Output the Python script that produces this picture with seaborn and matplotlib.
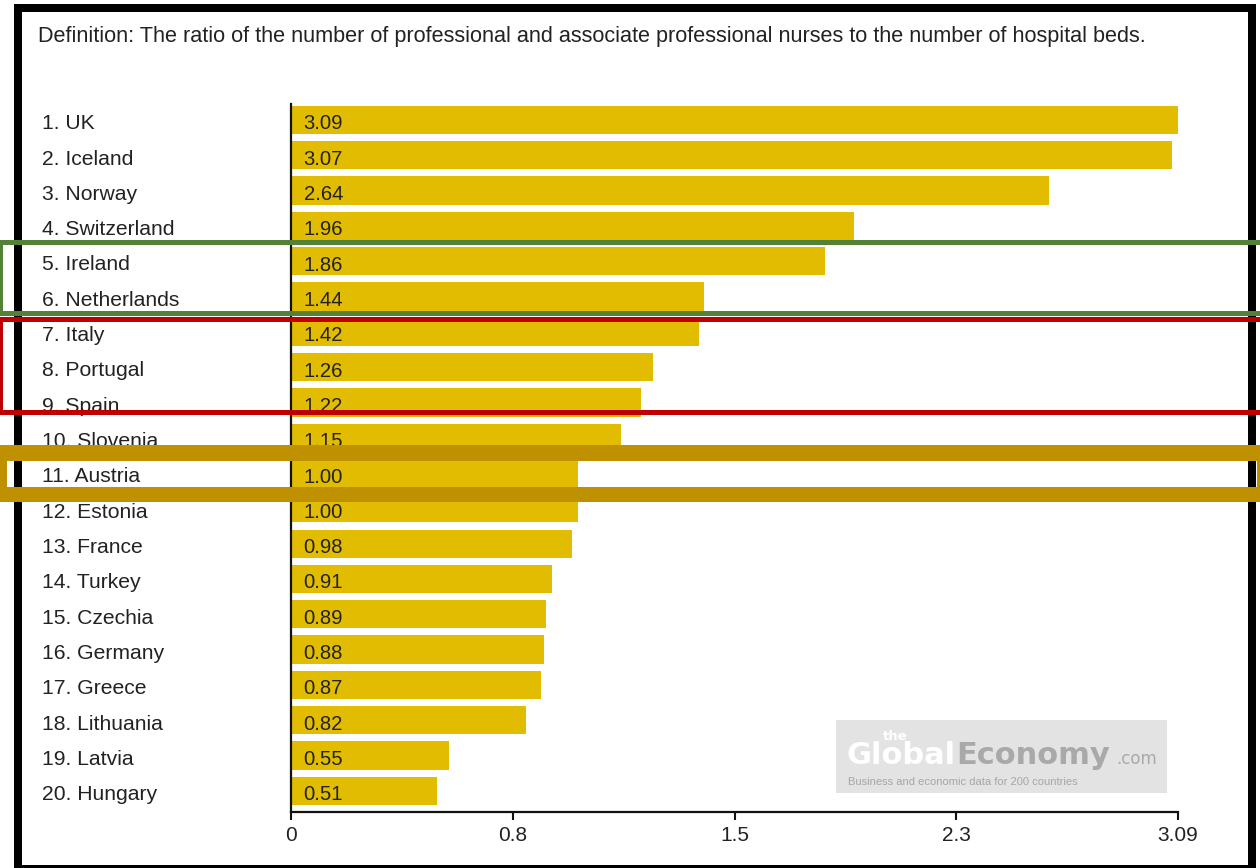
import matplotlib
matplotlib.use("Agg")
import matplotlib.pyplot as plt
import seaborn as sns
import pandas as pd
from matplotlib.patches import Rectangle

# ---------------- data ----------------
countries = ["UK", "Iceland", "Norway", "Switzerland", "Ireland", "Netherlands",
             "Italy", "Portugal", "Spain", "Slovenia", "Austria", "Estonia",
             "France", "Turkey", "Czechia", "Germany", "Greece", "Lithuania",
             "Latvia", "Hungary"]
values = [3.09, 3.07, 2.64, 1.96, 1.86, 1.44, 1.42, 1.26, 1.22, 1.15,
          1.00, 1.00, 0.98, 0.91, 0.89, 0.88, 0.87, 0.82, 0.55, 0.51]
tick_values = [0, 0.7725, 1.545, 2.3175, 3.09]
tick_labels = ["0", "0.8", "1.5", "2.3", "3.09"]
title = ("Definition: The ratio of the number of professional and associate "
         "professional nurses to the number of hospital beds.")

W, H = 1260, 868
sns.set_theme(style="white")
plt.rcParams['font.family'] = ['Liberation Sans', 'DejaVu Sans']

fig = plt.figure(figsize=(W / 100, H / 100), dpi=100)
fig.patch.set_facecolor("white")


def fx(x):
    return x / W


def fy(y):
    return 1 - y / H


ax = fig.add_axes([fx(291), fy(812), fx(1178) - fx(291), (812 - 104) / H])
labels = [f"{i + 1}. {c}" for i, c in enumerate(countries)]
df = pd.DataFrame({"country": labels, "value": values})
sns.barplot(data=df, x="value", y="country", orient="h", color="#E2BC00",
            saturation=1, width=0.8, ax=ax, edgecolor="none")
ax.set_xlim(0, 3.09)
ax.set_ylim(19.6, -0.45)
ax.set_xlabel("")
ax.set_ylabel("")
ax.set_facecolor("none")

for s in ["top", "right"]:
    ax.spines[s].set_visible(False)
for s in ["left", "bottom"]:
    ax.spines[s].set_color("#111111")
    ax.spines[s].set_linewidth(1.6)

ax.set_xticks(tick_values)
ax.set_xticklabels(tick_labels, fontsize=15, color="#222222")
ax.tick_params(axis="x", direction="out", length=6, width=1.5, color="#111111",
               pad=4, bottom=True)
ax.tick_params(axis="y", length=0, labelleft=False)

# country labels (left aligned at x=42px)
x_lab = (42 - 291) / (1178 - 291)
for i, lab in enumerate(labels):
    ax.text(x_lab, i + 0.265, lab, transform=ax.get_yaxis_transform(),
            ha="left", va="baseline", fontsize=15.2, color="#222222",
            clip_on=False)

for i, v in enumerate(values):
    ax.text(0.044, i + 0.27, f"{v:.2f}", va="baseline", ha="left",
            fontsize=14.6, color="#222222")

fig.text(fx(38), fy(42), title, fontsize=15.6, color="#222222",
         ha="left", va="baseline")

# ---------------- overlay (pixel coords) ----------------
ov = fig.add_axes([0, 0, 1, 1], zorder=10)
ov.set_xlim(0, W)
ov.set_ylim(H, 0)
ov.axis("off")
ov.patch.set_alpha(0)


def rect(x, y, w, h, c, z=1):
    ov.add_patch(Rectangle((x, y), w, h, facecolor=c, edgecolor="none", zorder=z))


# watermark box
rect(836, 720, 331, 73, "#E3E3E3", 1)
ov.text(847, 764, "Global", fontsize=22, color="white", ha="left",
        va="baseline", family="DejaVu Sans", fontweight="bold", zorder=2)
ov.text(883, 740, "the", fontsize=9.5, color="white", ha="left",
        va="baseline", family="DejaVu Sans", fontweight="bold", zorder=3)
ov.text(956, 764, "Economy", fontsize=22, color="#A9A9A9", ha="left",
        va="baseline", family="DejaVu Sans", fontweight="bold", zorder=2)
ov.text(1116, 764, ".com", fontsize=12, color="#A9A9A9", ha="left",
        va="baseline", family="DejaVu Sans", zorder=2)
ov.text(848, 785, "Business and economic data for 200 countries", fontsize=8,
        color="#A6A6A6", ha="left", va="baseline", zorder=2)

# black frame
rect(14, 4, 8, H - 4, "black", 3)
rect(14, 4, 1242, 8, "black", 3)
rect(1248, 4, 8, H - 4, "black", 3)
rect(14, 865, 1242, 3, "black", 3)

# highlight bands
green, red, gold = "#538135", "#C00000", "#BF9000"
rect(0, 240, W, 5, green, 4)
rect(0, 311, W, 5, green, 4)
rect(0, 240, 3, 76, green, 4)

rect(0, 317, W, 5, red, 4)
rect(0, 410, W, 5, red, 4)
rect(0, 317, 3, 98, red, 4)

rect(0, 445, W, 16, gold, 4)
rect(0, 487, W, 15, gold, 4)
rect(0, 445, 7, 57, gold, 4)
rect(1257, 445, 3, 57, gold, 4)

fig.savefig("out.png", dpi=100)
